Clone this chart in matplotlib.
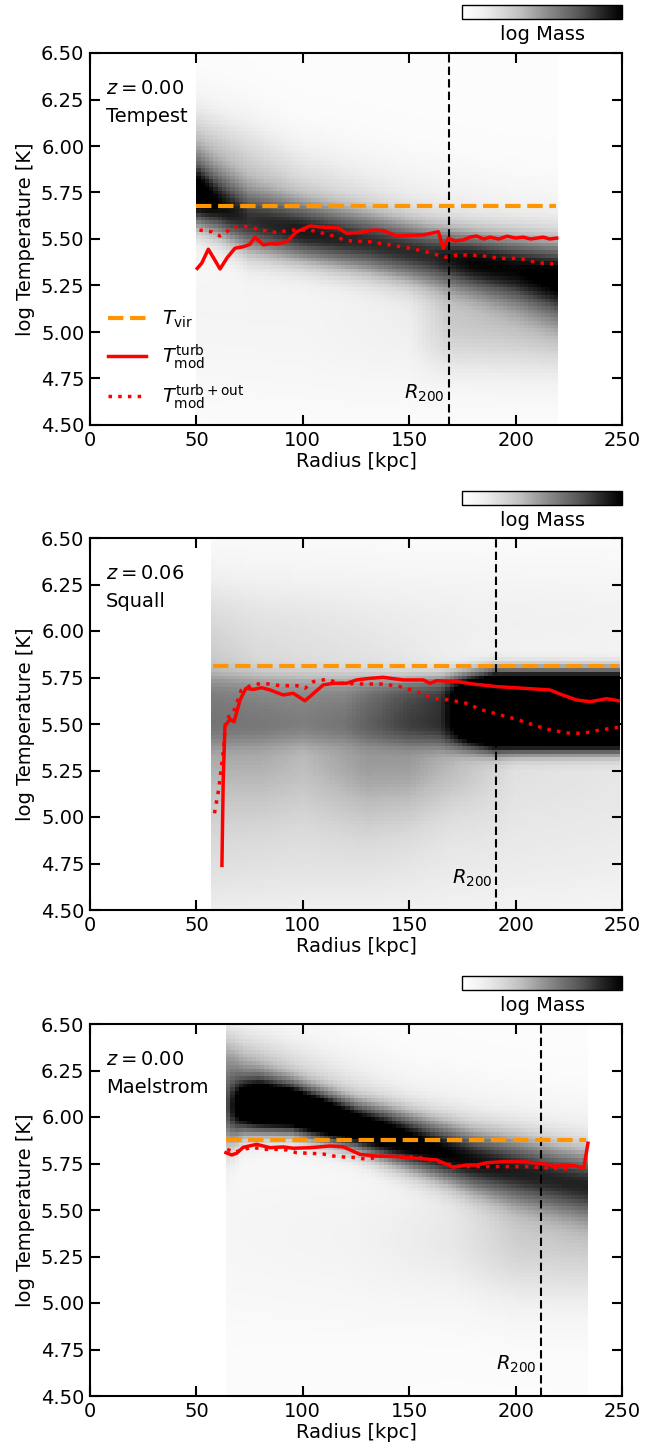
import numpy as np
import matplotlib
matplotlib.use("Agg")
import matplotlib.pyplot as plt
from matplotlib.lines import Line2D

plt.rcParams['font.family'] = ['DejaVu Sans']
plt.rcParams['mathtext.fontset'] = 'dejavusans'

# ---------------- data ----------------
# panel labels
halo_names = ["Tempest", "Squall", "Maelstrom"]
redshift_labels = [r"$z = 0.00$", r"$z = 0.06$", r"$z = 0.00$"]
t_vir = [5.675, 5.81, 5.875]
r200 = [168.5, 191.0, 212.0]
t_vir_rmin = [50.0, 58.0, 64.0]
t_vir_rmax = [219.0, 248.0, 233.0]

# Tempest: T_mod^turb (solid) and T_mod^turb+out (dotted)
tempest_r_turb = [50.4, 52.5, 55.6, 58.5, 61.1, 64.5, 68.1, 72.1, 75.0, 77.5, 81.5, 84.5, 87.7, 92.4,
                  97.1, 103.4, 108.0, 112.8, 116.5, 120.6, 127.0, 133.1, 138.0, 144.1, 150.0, 156.6,
                  163.7, 166.0, 168.4, 171.5, 175.4, 178.5, 181.7, 185.0, 188.0, 192.0, 196.0,
                  200.0, 203.6, 207.0, 210.0, 213.0, 216.0, 219.3]
tempest_t_turb = [5.342, 5.37, 5.445, 5.39, 5.339, 5.40, 5.450, 5.459, 5.47, 5.509, 5.468, 5.475, 5.473, 5.485,
                  5.539, 5.570, 5.565, 5.561, 5.56, 5.531, 5.535, 5.548, 5.545, 5.516, 5.52, 5.522,
                  5.539, 5.450, 5.504, 5.49, 5.495, 5.51, 5.516, 5.50, 5.51, 5.50, 5.515,
                  5.505, 5.51, 5.50, 5.505, 5.51, 5.50, 5.505]
tempest_r_out = [51.4, 57.2, 61.1, 67.4, 72.0, 79.1, 87.7, 94.0, 103.4, 112.8, 120.6, 131.6, 141.0,
                 150.4, 159.8, 166.8, 172.3, 178.6, 184.8, 192.7, 202.0, 208.3, 213.0, 217.7]
tempest_t_out = [5.548, 5.539, 5.516, 5.563, 5.570, 5.552, 5.534, 5.548, 5.548, 5.522, 5.491, 5.485, 5.468,
                 5.450, 5.426, 5.402, 5.414, 5.414, 5.409, 5.396, 5.396, 5.378, 5.37, 5.366]

# Squall
squall_r_turb = [62.0, 62.6, 63.4, 65.8, 67.7, 70.5, 73.3, 76.7, 80.7, 84.6, 90.8, 95.5, 101.0, 104.2,
                 109.6, 114.3, 120.6, 125.3, 131.0, 137.8, 147.2, 156.6, 159.8, 162.9, 172.3, 180.1,
                 191.1, 203.6, 216.2, 220.9, 228.7, 235.0, 242.8, 248.3]
squall_t_turb = [4.74, 5.20, 5.489, 5.525, 5.512, 5.629, 5.692, 5.686, 5.695, 5.683, 5.656, 5.665, 5.625, 5.656,
                 5.710, 5.719, 5.719, 5.737, 5.745, 5.751, 5.737, 5.737, 5.719, 5.733, 5.728, 5.715,
                 5.701, 5.692, 5.683, 5.661, 5.629, 5.620, 5.636, 5.625]
squall_r_out = [58.5, 60.5, 62.5, 63.9, 67.0, 71.0, 76.0, 81.5, 89.3, 97.1, 101.0, 105.0, 111.2, 117.5,
                128.4, 137.8, 145.7, 153.5, 161.3, 169.2, 177.0, 183.3, 191.1, 200.5, 209.9, 216.2,
                225.6, 231.8, 239.7, 248.3]
squall_t_out = [5.02, 5.15, 5.342, 5.531, 5.55, 5.68, 5.710, 5.719, 5.706, 5.706, 5.692, 5.728, 5.740, 5.719,
                5.715, 5.715, 5.701, 5.674, 5.638, 5.629, 5.611, 5.579, 5.554, 5.525, 5.489, 5.468,
                5.450, 5.450, 5.468, 5.482]

# Maelstrom
mael_r_turb = [63.9, 66.6, 68.9, 72.0, 78.3, 84.6, 90.8, 95.5, 103.4, 112.8, 119.0, 126.9, 134.7, 144.1,
               153.5, 162.9, 170.7, 177.0, 181.7, 186.4, 194.2, 203.6, 210.0, 215.0, 218.0, 222.0,
               228.0, 232.0, 234.0]
mael_t_turb = [5.808, 5.796, 5.805, 5.837, 5.853, 5.835, 5.839, 5.832, 5.835, 5.844, 5.840, 5.799, 5.790, 5.787,
               5.778, 5.769, 5.730, 5.742, 5.742, 5.754, 5.760, 5.760, 5.752, 5.745, 5.735, 5.742,
               5.738, 5.724, 5.859]
mael_r_out = [64.5, 68.0, 72.0, 76.7, 81.5, 87.7, 92.4, 97.1, 103.4, 109.6, 115.9, 123.7, 130.0, 137.8,
              150.0, 157.0, 166.0, 174.0, 181.7, 191.1, 200.0, 206.0, 215.0, 225.0]
mael_t_out = [5.826, 5.81, 5.826, 5.837, 5.826, 5.826, 5.823, 5.808, 5.805, 5.801, 5.787, 5.783, 5.773, 5.790,
              5.787, 5.778, 5.751, 5.733, 5.733, 5.733, 5.733, 5.733, 5.725, 5.72]

# Background mass-weighted histogram, described by density components:
# each component: radii knots, centre temperature, width, darkness (>=1 saturates), profile sharpness
tempest_hist_range = [50.0, 220.0]
tempest_components = [
    dict(r=[50, 60, 75, 100, 130, 160, 180, 200, 220],
         c=[5.75, 5.69, 5.60, 5.54, 5.48, 5.41, 5.37, 5.33, 5.28],
         w=[0.12, 0.12, 0.13, 0.12, 0.12, 0.12, 0.12, 0.13, 0.14],
         a=[1.2, 0.95, 0.8, 0.88, 0.82, 0.82, 0.95, 0.95, 1.05], p=2.0),
    dict(r=[50, 75, 100, 150, 200, 220],
         c=[5.95, 5.88, 5.80, 5.70, 5.60, 5.58],
         w=[0.18, 0.18, 0.16, 0.16, 0.16, 0.16],
         a=[0.35, 0.25, 0.18, 0.10, 0.08, 0.08], p=2.0),
    dict(r=[50, 100, 150, 170, 200, 220],
         c=[5.10, 5.05, 5.05, 5.05, 5.05, 5.05],
         w=[0.30, 0.30, 0.25, 0.20, 0.20, 0.20],
         a=[0.06, 0.06, 0.10, 0.28, 0.30, 0.32], p=2.0),
]
squall_hist_range = [57.0, 250.0]
squall_components = [
    dict(r=[57, 120, 145, 165, 178, 190, 250],
         c=[5.58, 5.58, 5.57, 5.57, 5.57, 5.57, 5.57],
         w=[0.16, 0.15, 0.15, 0.16, 0.17, 0.18, 0.18],
         a=[0.30, 0.35, 0.60, 0.75, 1.4, 1.8, 1.8], p=4.0),
    dict(r=[57, 80, 100, 130, 150, 170, 200, 250],
         c=[5.45, 5.40, 5.40, 5.35, 5.35, 5.35, 5.30, 5.30],
         w=[0.35, 0.32, 0.32, 0.30, 0.28, 0.25, 0.25, 0.25],
         a=[0.42, 0.40, 0.35, 0.45, 0.45, 0.35, 0.15, 0.12], p=2.0),
    dict(r=[57, 150, 250],
         c=[6.05, 6.05, 6.05],
         w=[0.22, 0.22, 0.22],
         a=[0.14, 0.10, 0.08], p=2.0),
    dict(r=[57, 150, 250],
         c=[4.75, 4.75, 4.80],
         w=[0.30, 0.30, 0.30],
         a=[0.14, 0.12, 0.10], p=2.0),
]
mael_hist_range = [64.0, 234.0]
mael_components = [
    dict(r=[64, 72, 80, 95, 110, 125, 140, 160, 180, 200, 220, 234],
         c=[6.05, 6.07, 6.07, 6.05, 6.00, 5.95, 5.90, 5.83, 5.76, 5.71, 5.66, 5.63],
         w=[0.16, 0.11, 0.10, 0.09, 0.09, 0.09, 0.10, 0.11, 0.12, 0.13, 0.13, 0.13],
         a=[0.65, 1.3, 1.7, 1.7, 1.5, 1.25, 1.15, 1.0, 0.92, 0.86, 0.83, 0.83], p=2.0),
    dict(r=[64, 100, 150, 200, 234],
         c=[6.30, 6.22, 6.05, 5.95, 5.90],
         w=[0.14, 0.15, 0.15, 0.15, 0.15],
         a=[0.35, 0.20, 0.10, 0.07, 0.07], p=2.0),
    dict(r=[64, 120, 170, 200, 234],
         c=[5.40, 5.35, 5.35, 5.35, 5.35],
         w=[0.35, 0.30, 0.25, 0.25, 0.25],
         a=[0.05, 0.07, 0.14, 0.26, 0.28], p=2.0),
]
hist_floor = 0.03

# ---------------- figure ----------------
W, H = 667, 1446
fig = plt.figure(figsize=(W / 100, H / 100), dpi=100)

ax_left = 90 / W
ax_width = 532 / W
ax_bottoms = [(H - 425) / H, (H - 910) / H, (H - 1396) / H]
ax_height = 372 / H
cb_left = 462 / W
cb_width = 160 / W
cb_bottoms = [(H - 19) / H, (H - 505) / H, (H - 990) / H]
cb_height = 14 / H

panels = [
    (tempest_hist_range, tempest_components, tempest_r_turb, tempest_t_turb, tempest_r_out, tempest_t_out),
    (squall_hist_range, squall_components, squall_r_turb, squall_t_turb, squall_r_out, squall_t_out),
    (mael_hist_range, mael_components, mael_r_turb, mael_t_turb, mael_r_out, mael_t_out),
]

orange = '#ff9500'
fs = 14

for i, (hrange, comps, r_t, t_t, r_o, t_o) in enumerate(panels):
    ax = fig.add_axes([ax_left, ax_bottoms[i], ax_width, ax_height])
    # histogram grid
    xedges = np.arange(hrange[0], hrange[1] + 0.01, 2.0)
    yedges = np.arange(4.5, 6.5 + 1e-6, 0.02)
    xc = 0.5 * (xedges[:-1] + xedges[1:])
    yc = 0.5 * (yedges[:-1] + yedges[1:])
    keep = np.ones((len(yc), len(xc)))
    for comp in comps:
        c = np.interp(xc, comp['r'], comp['c'])
        w = np.interp(xc, comp['r'], comp['w'])
        a = np.interp(xc, comp['r'], comp['a'])
        d = np.abs(yc[:, None] - c[None, :]) / w[None, :]
        val = np.clip(a[None, :] * np.exp(-0.5 * d ** comp['p']), 0, 1)
        keep *= (1 - val)
    Z = 1 - keep
    Z = np.clip(Z + hist_floor, 0, 1)
    mesh = ax.pcolormesh(xedges, yedges, Z, cmap='Greys', vmin=0, vmax=1,
                         shading='flat', zorder=0, rasterized=True)

    ax.hlines(t_vir[i], t_vir_rmin[i], t_vir_rmax[i], colors=orange, linestyles='--',
              linewidth=3, zorder=3)
    ax.axvline(r200[i], color='k', linestyle=(0, (4, 2)), linewidth=1.5, zorder=2)
    ax.plot(r_t, t_t, color='red', linewidth=2.5, zorder=4)
    ax.plot(r_o, t_o, color='red', linewidth=2.5, linestyle=(0, (1, 1.8)), zorder=4)

    ax.text(r200[i] - 2, 4.67, r"$R_{200}$", ha='right', va='center', fontsize=fs)
    ax.text(0.03, 0.905, redshift_labels[i], transform=ax.transAxes, fontsize=fs,
            ha='left', va='center')
    ax.text(0.03, 0.828, halo_names[i], transform=ax.transAxes, fontsize=fs,
            ha='left', va='center')

    ax.set_xlim(0, 250)
    ax.set_ylim(4.5, 6.5)
    ax.set_xticks([0, 50, 100, 150, 200, 250])
    ax.set_yticks(np.arange(4.5, 6.51, 0.25))
    ax.set_yticklabels([f"{v:.2f}" for v in np.arange(4.5, 6.51, 0.25)])
    ax.tick_params(direction='in', top=True, right=True, length=7, width=1.5,
                   labelsize=fs, pad=4)
    for s in ax.spines.values():
        s.set_linewidth(1.5)
    ax.set_xlabel("Radius [kpc]", fontsize=fs, labelpad=2)
    ax.set_ylabel("log Temperature [K]", fontsize=fs, labelpad=4)

    if i == 0:
        handles = [
            Line2D([], [], color=orange, linestyle='--', linewidth=3),
            Line2D([], [], color='red', linewidth=2.5),
            Line2D([], [], color='red', linewidth=2.5, linestyle=(0, (1, 1.8))),
        ]
        labels = [r"$T_{\rm vir}$", r"$T_{\rm mod}^{\rm turb}$", r"$T_{\rm mod}^{\rm turb+out}$"]
        ax.legend(handles, labels, loc='lower left', frameon=False, fontsize=fs,
                  handlelength=2.0, labelspacing=0.6, bbox_to_anchor=(0.0, -0.01))

    cax = fig.add_axes([cb_left, cb_bottoms[i], cb_width, cb_height])
    cb = fig.colorbar(mesh, cax=cax, orientation='horizontal')
    cb.set_ticks([])
    cb.outline.set_linewidth(1.0)
    cax.set_xlabel("log Mass", fontsize=fs, labelpad=4)

fig.savefig("out.png", dpi=100)
